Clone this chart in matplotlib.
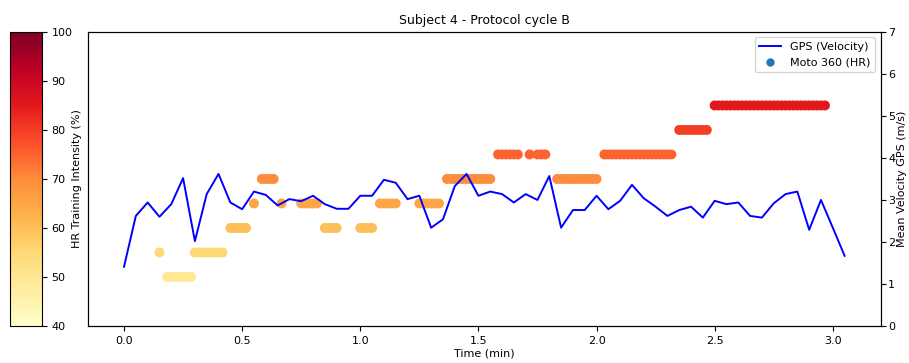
from matplotlib import pyplot as plt
from matplotlib.lines import Line2D
import numpy as np

# GPS mean velocity (m/s), one value every 0.05 min starting at t = 0
gps_step = 0.05
gps_velocity = [
    1.41, 2.62, 2.94, 2.60, 2.90, 3.52, 2.02, 3.14, 3.62, 2.94,
    2.78, 3.20, 3.12, 2.87, 3.02, 2.97, 3.10, 2.90, 2.79, 2.79,
    3.10, 3.10, 3.48, 3.41, 3.02, 3.10, 2.34, 2.54, 3.33, 3.62,
    3.10, 3.20, 3.14, 2.94, 3.14, 3.00, 3.57, 2.34, 2.76, 2.76,
    3.10, 2.78, 2.98, 3.36, 3.04, 2.84, 2.62, 2.76, 2.84, 2.58,
    2.98, 2.90, 2.94, 2.62, 2.58, 2.92, 3.14, 3.20, 2.29, 3.00,
    2.34, 1.67,
]

# Moto 360 HR training intensity (%), sampled once per second, stored as runs
hr_start = [0.14, 0.17, 0.30, 0.44, 0.54, 0.57, 0.66, 0.74, 0.84, 0.99,
            1.08, 1.25, 1.36, 1.58, 1.71, 1.75, 1.82, 2.03, 2.35, 2.49]
hr_stop = [0.15, 0.29, 0.42, 0.52, 0.555, 0.64, 0.667, 0.82, 0.91, 1.06,
           1.16, 1.34, 1.56, 1.67, 1.717, 1.79, 2.01, 2.32, 2.48, 2.98]
hr_level = [55, 50, 55, 60, 65, 70, 65, 65, 60, 60,
            65, 65, 70, 75, 75, 75, 70, 75, 80, 85]
hr_rate = 60  # samples per minute

gps_time = np.arange(len(gps_velocity)) * gps_step

hr_time = []
hr_value = []
for a, b, lvl in zip(hr_start, hr_stop, hr_level):
    n0 = int(np.ceil(a * hr_rate - 1e-6))
    n1 = int(np.floor(b * hr_rate + 1e-6))
    for n in range(n0, max(n0, n1) + 1):
        hr_time.append(n / hr_rate)
        hr_value.append(lvl)

plt.rcParams['font.size'] = 8

fig = plt.figure(figsize=(9.09, 3.63), dpi=100)
ax = fig.add_axes([0.0968, 0.102, 0.872, 0.81])
cax = fig.add_axes([0.011, 0.102, 0.035, 0.81])

sc = ax.scatter(hr_time, hr_value, c=hr_value, cmap="YlOrRd", vmin=40, vmax=100, s=38, zorder=2)
ax.set_ylim(40, 100)
ax.set_yticks([])
ax.set_ylabel("HR Training Intensity (%)")
ax.set_xlabel("Time (min)", labelpad=2)
ax.set_title("Subject 4 - Protocol cycle B", fontsize=9)

ax2 = ax.twinx()
ax2.plot(gps_time, gps_velocity, color="b", lw=1.4)
ax2.set_ylim(0, 7)
ax2.set_ylabel("Mean Velocity GPS (m/s)", labelpad=1)
ax2.tick_params(axis="y", pad=2)
ax.set_xlim(-0.1525, 3.2025)

cb = fig.colorbar(sc, cax=cax)
cb.set_ticks([40, 50, 60, 70, 80, 90, 100])

handles = [
    Line2D([], [], color="b", lw=1.4),
    Line2D([], [], color="#1f77b4", marker="o", ls="", markersize=5),
]
ax2.legend(handles, ["GPS (Velocity)", "Moto 360 (HR)"], loc="upper right")

fig.savefig("out.png", dpi=100)
